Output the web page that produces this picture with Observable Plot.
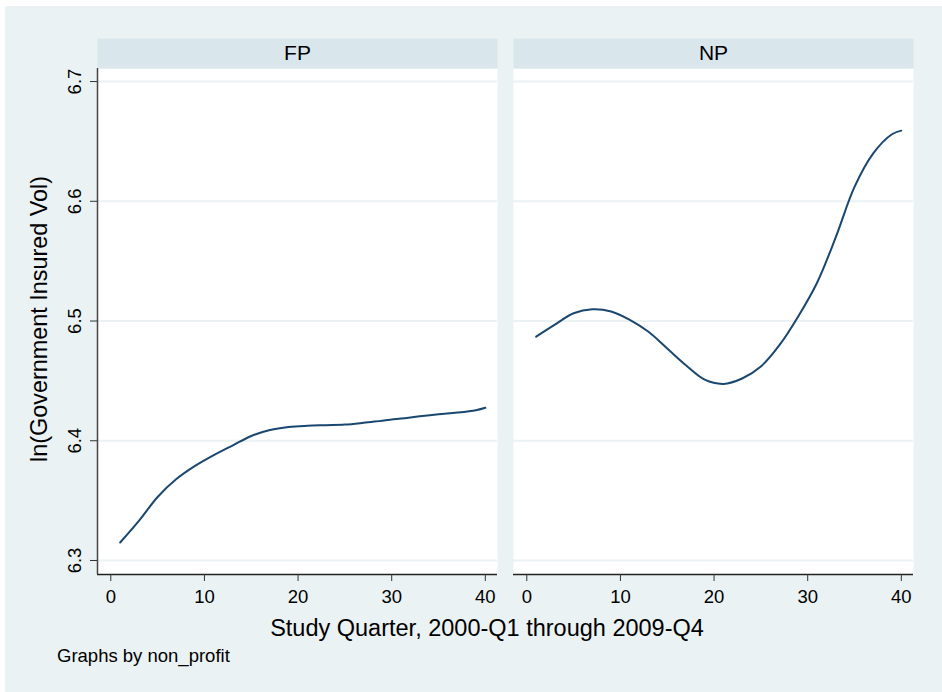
<!DOCTYPE html>
<html><head><meta charset="utf-8">
<script src="https://cdn.jsdelivr.net/npm/d3@7"></script>
<script src="https://cdn.jsdelivr.net/npm/@observablehq/plot@0.6"></script>
<style>
html,body{margin:0;padding:0;background:#fff;}
#wrap{position:absolute;left:5px;top:6px;width:937px;height:686px;background:#eaf2f3;font-family:"Liberation Sans",Arial,sans-serif;}
#chart{position:absolute;left:0;top:0;}
.lab{position:absolute;color:#000;white-space:nowrap;line-height:1;}
#ylab{left:35px;top:313px;font-size:23.4px;transform:translate(-50%,-50%) rotate(-90deg);}
#xlab{left:482px;top:623px;font-size:23.5px;transform:translate(-50%,-50%);}
#note{left:52px;top:650px;font-size:18.5px;transform:translate(0,-50%);}
</style></head><body>
<div id="wrap"><div id="chart"></div>
<div class="lab" id="ylab">ln(Government Insured Vol)</div>
<div class="lab" id="xlab">Study Quarter, 2000-Q1 through 2009-Q4</div>
<div class="lab" id="note">Graphs by non_profit</div>
</div>
<script>
const panels = ["FP", "NP"];
const quarters = [1, 3, 5, 7, 9, 11, 13, 15, 17, 19, 21, 23, 25, 27, 29, 31, 33, 35, 37, 39, 40];
const fpValues = [6.315, 6.333, 6.353, 6.368, 6.379, 6.388, 6.396, 6.404, 6.409, 6.4115, 6.4125, 6.413, 6.4135, 6.415, 6.4168, 6.4185, 6.4205, 6.4222, 6.4235, 6.4255, 6.4275];
const npValues = [6.487, 6.497, 6.5065, 6.5098, 6.508, 6.501, 6.491, 6.477, 6.463, 6.451, 6.4475, 6.452, 6.462, 6.480, 6.504, 6.532, 6.570, 6.612, 6.640, 6.656, 6.659];
const xTicks = [0, 10, 20, 30, 40];
const yTicks = [6.3, 6.4, 6.5, 6.6, 6.7];
const xDomain = [-1.42, 41.3];
const yDomain = [6.2883, 6.7109];

const rows = [];
quarters.forEach((q, i) => {
  rows.push({panel: "FP", q, v: fpValues[i]});
  rows.push({panel: "NP", q, v: npValues[i]});
});
const yAxisPanel = [{panel: "FP", x: xDomain[0]}];

const chart = Plot.plot({
  width: 937,
  height: 686,
  marginLeft: 92,
  marginRight: 28,
  marginTop: 62,
  marginBottom: 118,
  style: {fontFamily: "'Liberation Sans', Arial, sans-serif", fontSize: "18.5px", background: "transparent", color: "#000", overflow: "visible"},
  fx: {domain: panels, paddingInner: 0.0384, paddingOuter: 0, axis: null},
  x: {domain: xDomain},
  y: {domain: yDomain},
  marks: [
    Plot.frame({fill: "white", stroke: "none"}),
    Plot.frame({fill: "#d9e6eb", stroke: "none", insetTop: -30, insetBottom: 506}),
    Plot.gridY(yTicks, {stroke: "#eaf2f3", strokeOpacity: 1, strokeWidth: 2}),
    Plot.ruleY([yDomain[0]], {stroke: "#222", strokeWidth: 1.5}),
    Plot.ruleX(yAxisPanel, {x: "x", fx: "panel", stroke: "#444", strokeWidth: 1.5}),
    Plot.axisX(xTicks, {tickSize: 7, tickPadding: 8, fontSize: 18.5, label: null, stroke: "#333"}),
    Plot.axisY(yTicks, {tickSize: 7, tickPadding: 10, fontSize: 18.5, label: null, tickRotate: -90, stroke: "#333", tickFormat: d => d.toFixed(1)}),
    Plot.line(rows, {x: "q", y: "v", fx: "panel", stroke: "#1a476f", strokeWidth: 2, curve: "catmull-rom"}),
    Plot.text(panels, {fx: d => d, text: d => d, frameAnchor: "top", lineAnchor: "middle", dy: -15, fontSize: 21, fill: "#000"})
  ]
});
document.getElementById("chart").appendChild(chart);
</script>
</body></html>
